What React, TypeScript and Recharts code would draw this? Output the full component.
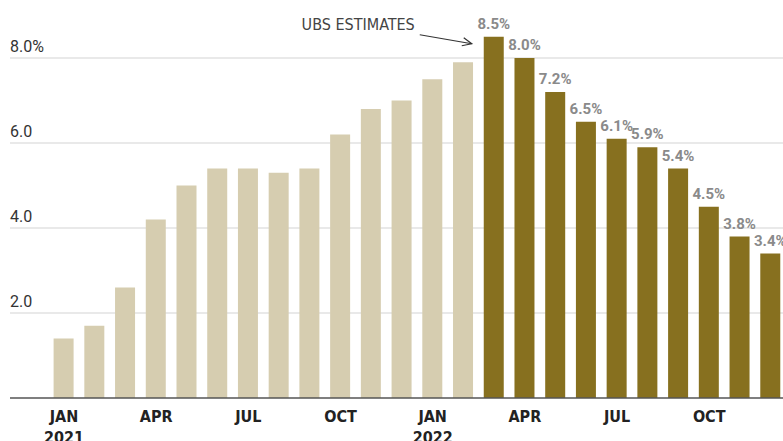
import React from 'react';
import { BarChart, Bar, Cell, XAxis, YAxis, CartesianGrid, LabelList } from 'recharts';

const monthNames = ['JAN', 'FEB', 'MAR', 'APR', 'MAY', 'JUN', 'JUL', 'AUG', 'SEP', 'OCT', 'NOV', 'DEC'];
const years = [2021, 2022];
const tickMonths = ['JAN', 'APR', 'JUL', 'OCT'];

// CPI, year over year %
const actual = [1.4, 1.7, 2.6, 4.2, 5.0, 5.4, 5.4, 5.3, 5.4, 6.2, 6.8, 7.0, 7.5, 7.9];
const ubsEstimates = [8.5, 8.0, 7.2, 6.5, 6.1, 5.9, 5.4, 4.5, 3.8, 3.4];

const yTicks = [2, 4, 6, 8];

const ACTUAL_COLOR = '#d6cdb0';
const ESTIMATE_COLOR = '#87701f';

const data = years.flatMap((year) => monthNames.map((m) => ({ month: m, year }))).map((d, i) => {
  const isEstimate = i >= actual.length;
  const value = isEstimate ? ubsEstimates[i - actual.length] : actual[i];
  return { ...d, value, estimate: isEstimate ? value : null };
});

const firstEstimate = actual.length;

const YTick = ({ y, payload }: any) => (
  <text x={10} y={y - 6} fill="#333" fontSize={16} fontFamily="Roboto, sans-serif">
    {payload.value === 8 ? '8.0%' : Number(payload.value).toFixed(1)}
  </text>
);

const XTick = ({ x, y, payload, index }: any) => {
  const d = data[index];
  if (!d || !tickMonths.includes(d.month)) return null;
  return (
    <text
      x={x}
      y={y + 24}
      textAnchor="middle"
      fill="#222"
      fontSize={16}
      fontWeight={700}
      fontFamily="'Liberation Sans Narrow', 'DejaVu Sans Condensed', sans-serif"
    >
      <tspan x={x}>{payload.value}</tspan>
      {d.month === 'JAN' && (
        <tspan x={x} dy={21}>
          {d.year}
        </tspan>
      )}
    </text>
  );
};

const ValueLabel = (props: any) => {
  const { x, y, width, value, index } = props;
  if (value == null) return null;
  const cx = x + width / 2;
  return (
    <g>
      <text
        x={cx}
        y={y - 8}
        textAnchor="middle"
        fill="#8a8a8a"
        fontSize={15}
        fontWeight={700}
        fontFamily="Roboto, sans-serif"
      >
        {`${value.toFixed(1)}%`}
      </text>
      {index === firstEstimate && (
        <g>
          <text
            x={x - 69}
            y={y - 7}
            textAnchor="end"
            fill="#444"
            fontSize={16}
            fontFamily="'Liberation Sans Narrow', 'DejaVu Sans Condensed', sans-serif"
          >
            UBS ESTIMATES
          </text>
          <line x1={x - 64} y1={y - 2} x2={x - 12} y2={y + 7} stroke="#333" strokeWidth={1.2} />
          <polyline
            points={`${x - 20},${y + 1} ${x - 12},${y + 7} ${x - 22},${y + 9}`}
            fill="none"
            stroke="#333"
            strokeWidth={1.2}
          />
        </g>
      )}
    </g>
  );
};

export default function App() {
  return (
    <div style={{ position: 'absolute', left: 0, top: 0, width: 783, height: 441, overflow: 'hidden', background: '#fff' }}>
      <BarChart
        width={790}
        height={441}
        data={data}
        margin={{ top: 15.5, right: 4, left: -30, bottom: 0 }}
        barSize={20}
      >
        <CartesianGrid vertical={false} stroke="#d4d4d4" strokeWidth={1.2} horizontalValues={yTicks} />
        <XAxis
          dataKey="month"
          interval={0}
          height={43}
          padding={{ left: 38.6, right: 0 }}
          axisLine={{ stroke: '#555', strokeWidth: 1.5 }}
          tickLine={false}
          tickSize={0}
          tickMargin={0}
          tick={<XTick />}
        />
        <YAxis
          width={40}
          domain={[0, 9]}
          ticks={yTicks}
          axisLine={false}
          tickLine={false}
          tick={<YTick />}
        />
        <Bar dataKey="value" isAnimationActive={false}>
          {data.map((d, i) => (
            <Cell key={`cell-${i}`} fill={d.estimate != null ? ESTIMATE_COLOR : ACTUAL_COLOR} />
          ))}
          <LabelList dataKey="estimate" content={<ValueLabel />} />
        </Bar>
      </BarChart>
    </div>
  );
}
